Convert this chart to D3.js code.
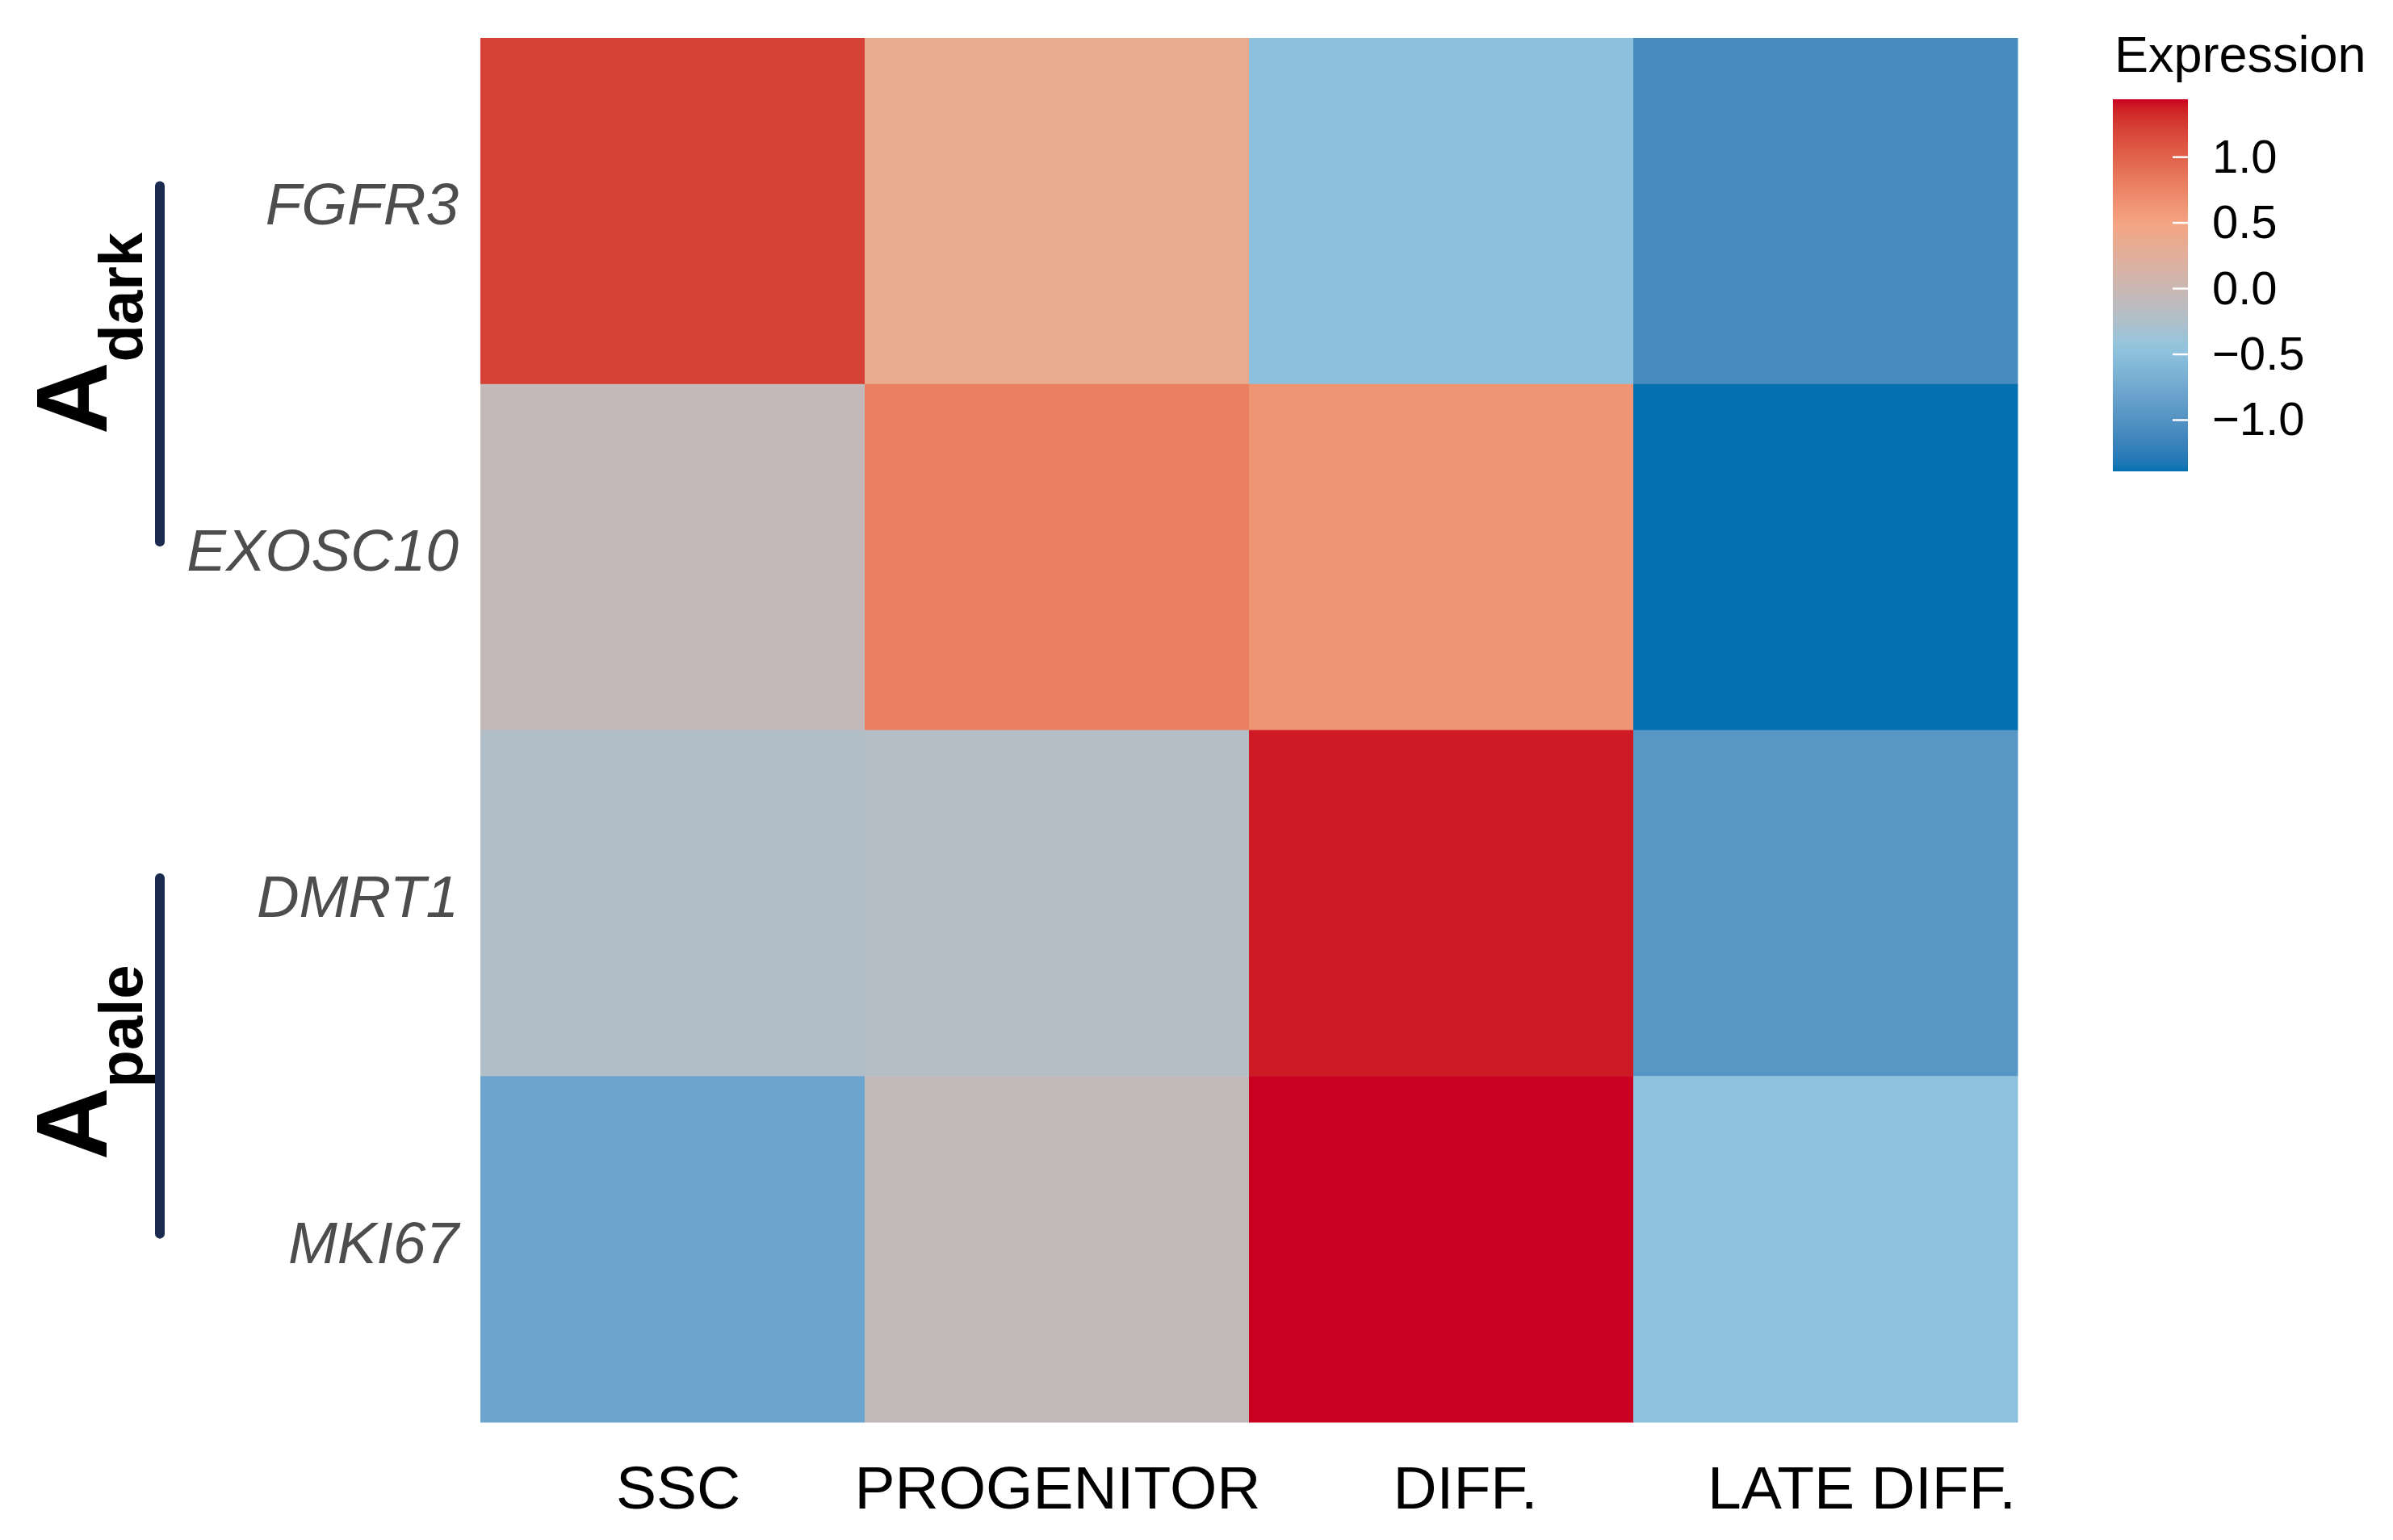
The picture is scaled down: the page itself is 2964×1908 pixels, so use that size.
<!DOCTYPE html>
<html>
<head>
<meta charset="utf-8">
<script src="https://cdn.jsdelivr.net/npm/d3@7"></script>
<style>
html,body{margin:0;padding:0;background:#ffffff;}
svg{display:block;}
</style>
</head>
<body>
<svg id="chart" width="2964" height="1908"></svg>
<script>
// ---------- data ----------
const stages = ["SSC", "PROGENITOR", "DIFF.", "LATE DIFF."];
const genes = ["FGFR3", "EXOSC10", "DMRT1", "MKI67"];
const fgfr3 = [1.22, 0.37, -0.50, -1.08];
const exosc10 = [-0.06, 0.80, 0.62, -1.39];
const dmrt1 = [-0.22, -0.19, 1.39, -0.96];
const mki67 = [-0.80, -0.09, 1.44, -0.48];
const expression = [fgfr3, exosc10, dmrt1, mki67];
const legendTicks = [-1.0, -0.5, 0.0, 0.5, 1.0];
const groups = [
  {base: "A", sub: "dark", first: "FGFR3", last: "EXOSC10"},
  {base: "A", sub: "pale", first: "DMRT1", last: "MKI67"}
];
const paletteColors = ["#0571b0", "#92c5de", "#f4a582", "#ca0020"];

// ---------- layout ----------
const FONT = "'Liberation Sans', Arial, Helvetica, sans-serif";
const heat = {left: 595, right: 2499, top: 47, bottom: 1762};
const xLabelShift = [7, 1, 30, 45];

const svg = d3.select("#chart");
svg.append("rect").attr("width", 2964).attr("height", 1908).attr("fill", "#fff");

const x = d3.scaleBand().domain(stages).range([heat.left, heat.right]).padding(0);
const y = d3.scaleBand().domain(genes).range([heat.top, heat.bottom]).padding(0);

const allVals = expression.flat();
const vmin = d3.min(allVals), vmax = d3.max(allVals);
const color = d3.scaleLinear()
  .domain(d3.range(paletteColors.length).map(i => vmin + (vmax - vmin) * i / (paletteColors.length - 1)))
  .range(paletteColors)
  .interpolate(d3.interpolateLab);

const cells = [];
genes.forEach((g, i) => stages.forEach((s, j) => cells.push({gene: g, stage: s, value: expression[i][j]})));

svg.append("g").selectAll("rect").data(cells).join("rect")
  .attr("x", d => x(d.stage))
  .attr("y", d => y(d.gene))
  .attr("width", x.bandwidth() + 0.5)
  .attr("height", y.bandwidth() + 0.5)
  .attr("fill", d => color(d.value));

// row labels
svg.append("g").selectAll("text").data(genes).join("text")
  .attr("x", 568)
  .attr("y", d => y(d) + y.bandwidth() / 2 + 17)
  .attr("text-anchor", "end")
  .attr("font-family", FONT)
  .attr("font-style", "italic")
  .attr("font-size", 73)
  .attr("fill", "#4d4d4d")
  .text(d => d);

// column labels
svg.append("g").selectAll("text").data(stages).join("text")
  .attr("x", (d, i) => x(d) + x.bandwidth() / 2 + xLabelShift[i])
  .attr("y", 1869)
  .attr("text-anchor", "middle")
  .attr("font-family", FONT)
  .attr("font-size", 75)
  .attr("fill", "#000")
  .text(d => d);

// group brackets
const groupTextBottom = [538, 1437];
groups.forEach((gr, k) => {
  const y1 = y(gr.first) + y.bandwidth() / 2 - 31;
  const y2 = y(gr.last) + y.bandwidth() / 2 - 19;
  svg.append("line")
    .attr("x1", 198).attr("x2", 198)
    .attr("y1", y1).attr("y2", y2)
    .attr("stroke", "#1b2b4f")
    .attr("stroke-width", 12)
    .attr("stroke-linecap", "round");
  const t = svg.append("text")
    .attr("transform", `translate(132,${groupTextBottom[k]}) rotate(-90)`)
    .attr("font-family", FONT)
    .attr("font-weight", "bold")
    .attr("fill", "#000");
  t.append("tspan").attr("font-size", 124).text(gr.base);
  t.append("tspan").attr("font-size", 76).attr("dy", 44).text(gr.sub);
});

// ---------- legend ----------
const lg = {x: 2617, w: 93, top: 123, bottom: 584};
svg.append("text")
  .attr("x", 2619).attr("y", 89)
  .attr("font-family", FONT)
  .attr("font-size", 63)
  .attr("fill", "#000")
  .text("Expression");

const ly = d3.scaleLinear().domain([vmin, vmax]).range([lg.bottom, lg.top]);
const defs = svg.append("defs");
const grad = defs.append("linearGradient").attr("id", "cbar")
  .attr("x1", 0).attr("y1", 1).attr("x2", 0).attr("y2", 0);
d3.range(0, 1.0001, 0.02).forEach(t => {
  grad.append("stop").attr("offset", t).attr("stop-color", color(vmin + (vmax - vmin) * t));
});
svg.append("rect")
  .attr("x", lg.x).attr("y", lg.top)
  .attr("width", lg.w).attr("height", lg.bottom - lg.top)
  .attr("fill", "url(#cbar)");

const fmt = d3.format(".1f");
const tickG = svg.append("g").selectAll("g").data(legendTicks).join("g");
tickG.append("line")
  .attr("x1", lg.x + lg.w - 19).attr("x2", lg.x + lg.w)
  .attr("y1", d => ly(d)).attr("y2", d => ly(d))
  .attr("stroke", "#ffffff").attr("stroke-width", 2.5);
tickG.append("text")
  .attr("x", 2740)
  .attr("y", d => ly(d) + 19)
  .attr("font-family", FONT)
  .attr("font-size", 58)
  .attr("fill", "#000")
  .text(d => fmt(d));
</script>
</body>
</html>
